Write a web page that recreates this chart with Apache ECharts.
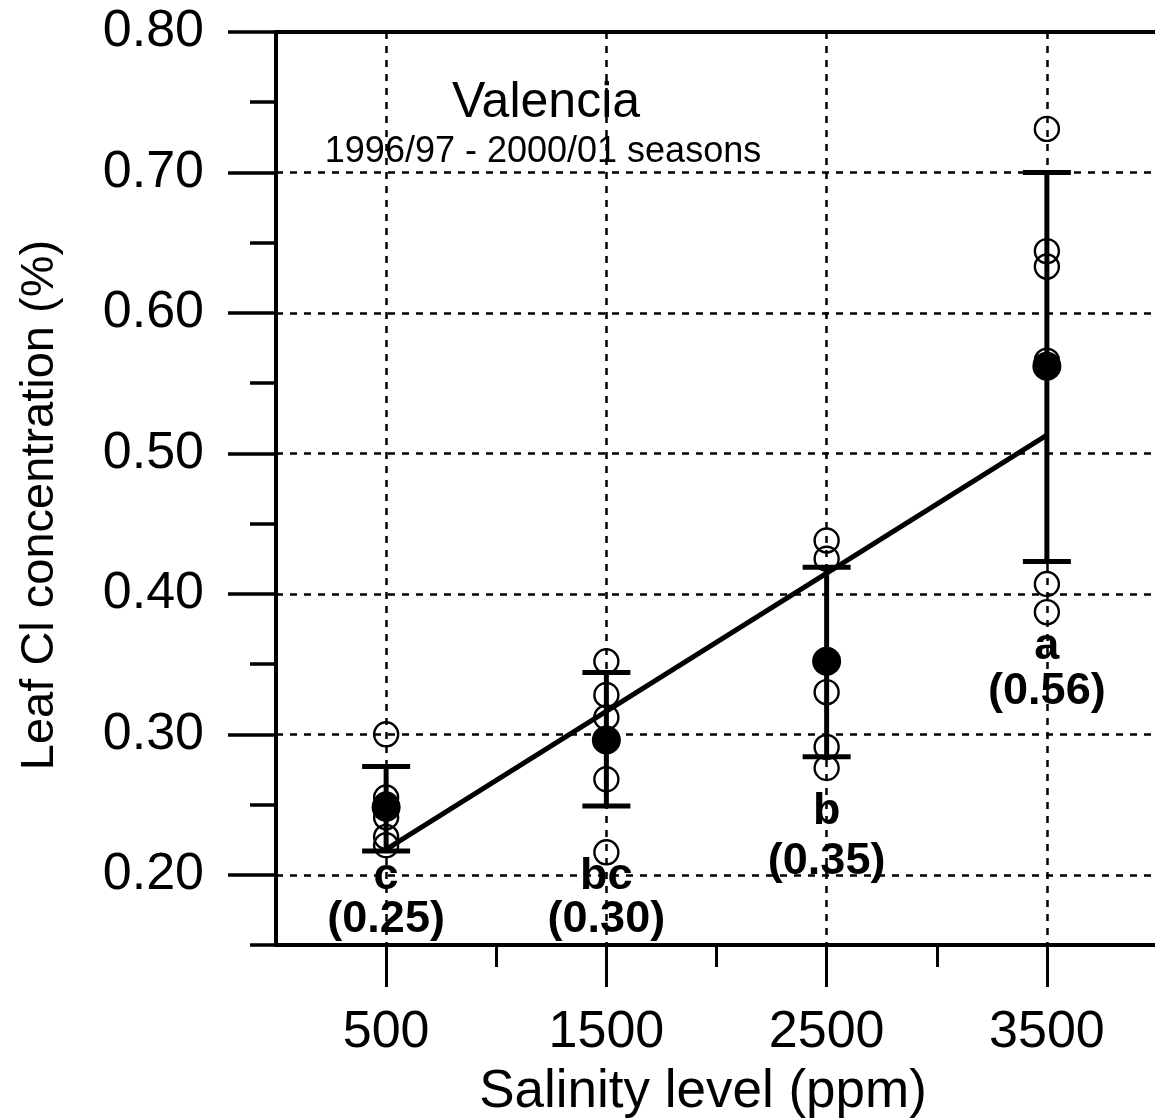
<!DOCTYPE html>
<html><head><meta charset="utf-8">
<script src="https://cdn.jsdelivr.net/npm/echarts@6/dist/echarts.min.js"></script>
<style>html,body{margin:0;padding:0;background:#fff;}#c{width:1155px;height:1119px;}</style>
</head><body><div id="c"></div>
<script>
// ---- data ----
const salinity = [500, 1500, 2500, 3500];
const meanCl = [0.248, 0.296, 0.352, 0.562];
const errLow = [0.217, 0.249, 0.284, 0.423];
const errHigh = [0.277, 0.344, 0.419, 0.700];
const seasonCl500 = [0.300, 0.255, 0.250, 0.241, 0.227, 0.221];
const seasonCl1500 = [0.352, 0.328, 0.312, 0.268, 0.216];
const seasonCl2500 = [0.438, 0.425, 0.330, 0.291, 0.276];
const seasonCl3500 = [0.731, 0.644, 0.633, 0.566, 0.407, 0.387];
const regressionX = [500, 3500];
const regressionY = [0.218, 0.513];
const groupLetters = ['c', 'bc', 'b', 'a'];
const meanLabels = ['(0.25)', '(0.30)', '(0.35)', '(0.56)'];
const xTickLabels = [500, 1500, 2500, 3500];
const xMinorTicks = [1000, 2000, 3000];
const yTickLabels = [0.20, 0.30, 0.40, 0.50, 0.60, 0.70, 0.80];
const yMinorTicks = [0.15, 0.25, 0.35, 0.45, 0.55, 0.65, 0.75];
const titleText = 'Valencia';
const subtitleText = '1996/97 - 2000/01 seasons';
const xTitle = 'Salinity level (ppm)';
const yTitle = 'Leaf Cl concentration (%)';

// ---- layout / style ----
const FONT = '"Liberation Sans", Arial, sans-serif';
const letterY = [0.1984, 0.1984, 0.2447, 0.3622];
const meanLabelY = [0.1678, 0.1678, 0.2091, 0.3301];

const seasonPoints = [];
[seasonCl500, seasonCl1500, seasonCl2500, seasonCl3500].forEach((arr, i) => {
  arr.forEach(v => seasonPoints.push([salinity[i], v]));
});

const chart = echarts.init(document.getElementById('c'), null, {renderer: 'canvas'});
const gridBox = {left: 276, top: 32, right: -2, bottom: 174, outerBoundsMode: 'none', containLabel: false};
const dash = {type: [7, 7], color: '#000', width: 2.5};

const option = {
  animation: false,
  backgroundColor: '#fff',
  grid: [Object.assign({}, gridBox), Object.assign({}, gridBox)],
  xAxis: [
    {
      type: 'value', gridIndex: 0, position: 'bottom', min: 0, max: 4000,
      axisLine: {show: true, onZero: false, lineStyle: {color: '#000', width: 4}},
      axisTick: {show: true, customValues: xTickLabels, length: 42, inside: false, lineStyle: {color: '#000', width: 3}},
      axisLabel: {show: true, customValues: xTickLabels, fontSize: 52, margin: 62, color: '#000', fontFamily: FONT,
        formatter: v => String(v)},
      splitLine: {show: true, lineStyle: dash}
    },
    {
      type: 'value', gridIndex: 0, position: 'top', min: 0, max: 4000,
      axisLine: {show: true, onZero: false, lineStyle: {color: '#000', width: 4}},
      axisTick: {show: false}, axisLabel: {show: false}, splitLine: {show: false}
    },
    {
      type: 'value', gridIndex: 1, position: 'bottom', min: 0, max: 4000,
      axisLine: {show: false, onZero: false},
      axisTick: {show: true, customValues: xMinorTicks, length: 22, lineStyle: {color: '#000', width: 3}},
      axisLabel: {show: false}, splitLine: {show: false}
    }
  ],
  yAxis: [
    {
      type: 'value', gridIndex: 0, position: 'left', min: 0.15, max: 0.80,
      axisLine: {show: true, onZero: false, lineStyle: {color: '#000', width: 4}},
      axisTick: {show: true, customValues: yTickLabels, length: 48, lineStyle: {color: '#000', width: 3.5}},
      axisLabel: {show: true, customValues: yTickLabels, fontSize: 52, margin: 72, color: '#000', fontFamily: FONT,
        formatter: v => Number(v).toFixed(2)},
      splitLine: {show: true, lineStyle: dash}
    },
    {
      type: 'value', gridIndex: 1, position: 'left', min: 0.15, max: 0.80,
      axisLine: {show: false, onZero: false},
      axisTick: {show: true, customValues: yMinorTicks, length: 26, lineStyle: {color: '#000', width: 3.5}},
      axisLabel: {show: false}, splitLine: {show: false}
    }
  ],
  graphic: [
    {type: 'text', x: 546, y: 103, style: {text: titleText, font: '50px ' + FONT, fill: '#000', align: 'center', verticalAlign: 'middle', textAlign: 'center', textVerticalAlign: 'middle'}},
    {type: 'text', x: 543, y: 152, style: {text: subtitleText, font: '36px ' + FONT, fill: '#000', align: 'center', verticalAlign: 'middle', textAlign: 'center', textVerticalAlign: 'middle'}},
    {type: 'text', x: 703, y: 1092, style: {text: xTitle, font: '53px ' + FONT, fill: '#000', align: 'center', verticalAlign: 'middle', textAlign: 'center', textVerticalAlign: 'middle'}},
    {type: 'text', x: 40, y: 505, rotation: Math.PI / 2, style: {text: yTitle, font: '47px ' + FONT, fill: '#000', align: 'center', verticalAlign: 'middle', textAlign: 'center', textVerticalAlign: 'middle'}}
  ],
  series: [
    {
      type: 'custom', xAxisIndex: 0, yAxisIndex: 0, z: 3,
      data: salinity.map((s, i) => [s, errLow[i], errHigh[i]]),
      encode: {x: 0, y: [1, 2]},
      renderItem: function (params, api) {
        const x = api.value(0);
        const lo = api.coord([x, api.value(1)]);
        const hi = api.coord([x, api.value(2)]);
        const half = 24;
        const st = {stroke: '#000', lineWidth: 5, fill: null};
        return {type: 'group', children: [
          {type: 'line', shape: {x1: lo[0], y1: lo[1], x2: hi[0], y2: hi[1]}, style: st},
          {type: 'line', shape: {x1: lo[0] - half, y1: lo[1], x2: lo[0] + half, y2: lo[1]}, style: st},
          {type: 'line', shape: {x1: hi[0] - half, y1: hi[1], x2: hi[0] + half, y2: hi[1]}, style: st}
        ]};
      }
    },
    {
      type: 'line', xAxisIndex: 0, yAxisIndex: 0, z: 4, symbol: 'none',
      data: regressionX.map((x, i) => [x, regressionY[i]]),
      lineStyle: {color: '#000', width: 5}
    },
    {
      type: 'scatter', xAxisIndex: 0, yAxisIndex: 0, z: 5,
      data: seasonPoints, symbol: 'circle', symbolSize: 24,
      itemStyle: {color: 'rgba(0,0,0,0)', borderColor: '#000', borderWidth: 2.4, opacity: 1}
    },
    {
      type: 'scatter', xAxisIndex: 0, yAxisIndex: 0, z: 6,
      data: salinity.map((s, i) => [s, meanCl[i]]), symbol: 'circle', symbolSize: 29,
      itemStyle: {color: '#000', opacity: 1}
    },
    {
      type: 'scatter', xAxisIndex: 0, yAxisIndex: 0, z: 7, symbolSize: 0, silent: true,
      itemStyle: {opacity: 1},
      data: salinity.map((s, i) => ({value: [s, letterY[i]], name: groupLetters[i]})),
      label: {show: true, position: 'inside', formatter: '{b}', fontSize: 45, fontWeight: 'bold', color: '#000', fontFamily: FONT}
    },
    {
      type: 'scatter', xAxisIndex: 0, yAxisIndex: 0, z: 7, symbolSize: 0, silent: true,
      itemStyle: {opacity: 1},
      data: salinity.map((s, i) => ({value: [s, meanLabelY[i]], name: meanLabels[i]})),
      label: {show: true, position: 'inside', formatter: '{b}', fontSize: 45, fontWeight: 'bold', color: '#000', fontFamily: FONT}
    }
  ]
};
chart.setOption(option);
</script>
</body></html>
